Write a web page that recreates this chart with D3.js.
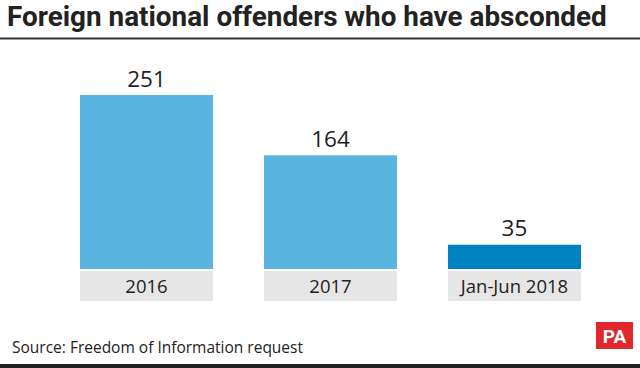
<!DOCTYPE html>
<html><head><meta charset="utf-8">
<script src="https://cdn.jsdelivr.net/npm/d3@7"></script>
<style>body{margin:0;background:#fff}svg{display:block}</style>
</head><body>
<svg id="c" width="640" height="368"></svg>
<script>
const categories = ["2016", "2017", "Jan-Jun 2018"];
const values = [251, 164, 35];
const barColors = ["#5ab4e0", "#5ab4e0", "#0082c0"];
const title = "Foreign national offenders who have absconded";
const source = "Source: Freedom of Information request";

const svg = d3.select("#c");
const W = 640, H = 368;
svg.append("rect").attr("width", W).attr("height", H).attr("fill", "#fff");

const t = svg.append("text").attr("x", 7).attr("y", 26)
  .attr("font-family", "Roboto, sans-serif").attr("font-weight", 700)
  .attr("font-size", 26).attr("fill", "#222").text(title);
const tw = t.node().getComputedTextLength();
t.attr("font-size", Math.min(28, 26 * 600 / tw));

svg.append("rect").attr("x", 0).attr("y", 37.5).attr("width", W).attr("height", 2).attr("fill", "#333");

const x = d3.scaleBand().domain(categories).range([80, 581]).paddingInner(0.277).paddingOuter(0);
const baseY = 269;
const y = d3.scaleLinear().domain([0, 251]).range([baseY, 95]);

const g = svg.append("g");
g.selectAll("rect.bar").data(values).join("rect").attr("class", "bar")
  .attr("x", (d, i) => x(categories[i])).attr("width", x.bandwidth())
  .attr("y", d => y(d)).attr("height", d => baseY - y(d))
  .attr("fill", (d, i) => barColors[i]);

g.selectAll("text.val").data(values).join("text").attr("class", "val")
  .attr("x", (d, i) => x(categories[i]) + x.bandwidth() / 2)
  .attr("y", d => y(d) - 8.5).attr("text-anchor", "middle")
  .attr("font-family", "'Open Sans', sans-serif").attr("font-size", 22.5)
  .attr("fill", "#222").text(d => d);

g.selectAll("rect.lab").data(categories).join("rect").attr("class", "lab")
  .attr("x", d => x(d)).attr("width", x.bandwidth())
  .attr("y", 271).attr("height", 30).attr("fill", "#e6e6e6");

g.selectAll("text.lab").data(categories).join("text").attr("class", "lab")
  .attr("x", d => x(d) + x.bandwidth() / 2).attr("y", 293)
  .attr("text-anchor", "middle")
  .attr("font-family", "'Open Sans', sans-serif").attr("font-size", 18.5)
  .attr("fill", "#222").text(d => d);

svg.append("text").attr("x", 12).attr("y", 353)
  .attr("font-family", "'Open Sans', sans-serif").attr("font-size", 15.5)
  .attr("fill", "#222").text(source);

svg.append("rect").attr("x", 596).attr("y", 322).attr("width", 37).attr("height", 27).attr("fill", "#e1262c");
svg.append("text").attr("x", 614.5).attr("y", 343).attr("text-anchor", "middle")
  .attr("font-family", "'Roboto', sans-serif").attr("font-weight", 700)
  .attr("font-size", 19).attr("fill", "#fff").text("PA");

svg.append("rect").attr("x", 0).attr("y", 364).attr("width", W).attr("height", 4).attr("fill", "#222");
</script>
</body></html>
